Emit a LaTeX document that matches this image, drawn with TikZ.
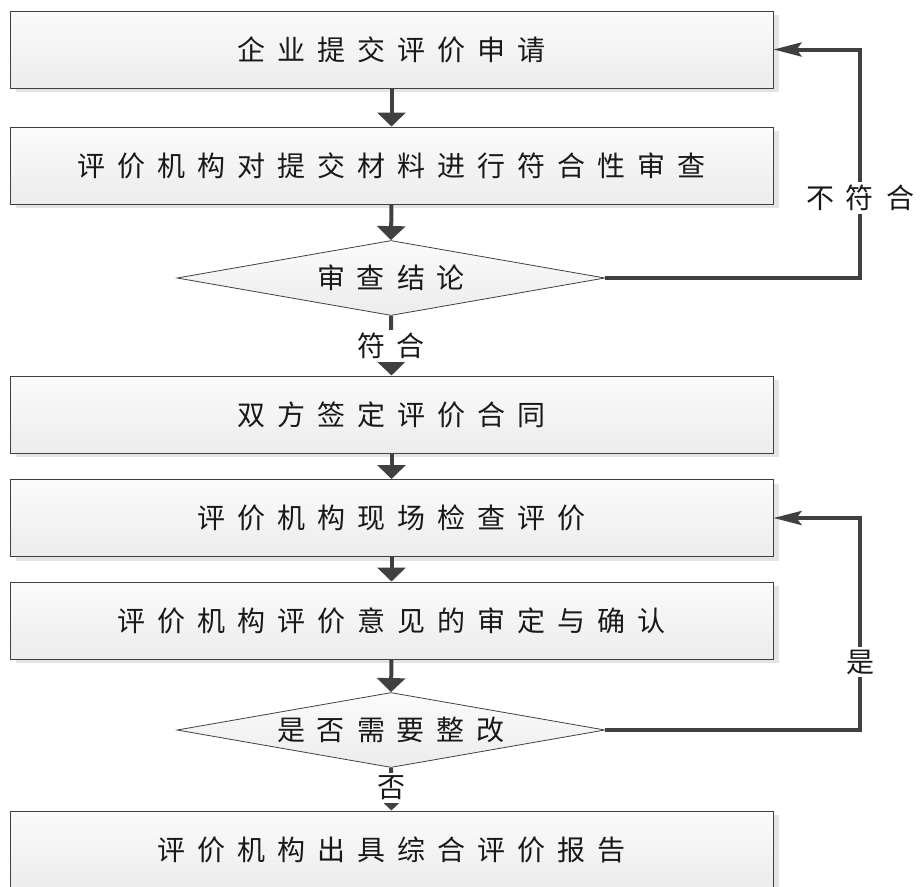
\documentclass[tikz,border=0pt]{standalone}
\usepackage{fontspec}
\newfontfamily\cjk{Noto Sans CJK SC}
\usetikzlibrary{arrows.meta,shapes.geometric,shadows}
\definecolor{linegray}{HTML}{404040}
\definecolor{shadowgray}{HTML}{E4E4E4}
\definecolor{topfill}{HTML}{FBFBFB}
\definecolor{botfill}{HTML}{ECECEC}
\makeatletter
\newcommand\sptext[1]{\def\my@sep{}\@tfor\my@ch:=#1\do{\my@sep\my@ch\def\my@sep{\hspace{12pt}}}}
\makeatother
\tikzset{
  txt/.style={font=\cjk\fontsize{28}{32}\selectfont, text=black!90},
  stepbox/.style={txt, draw=linegray, line width=1pt, inner sep=0pt,
    minimum width=763pt, minimum height=77pt,
    top color=topfill, bottom color=botfill,
    general shadow={fill=shadowgray, shadow xshift=6pt, shadow yshift=-4pt}},
  decide/.style={txt, diamond, draw=linegray, line width=0.8pt, inner sep=0pt, aspect=5.7,
    minimum width=428pt, minimum height=75pt,
    top color=topfill, bottom color=botfill},
  arr/.style={draw=linegray, line width=4pt, -{Triangle[width=28pt,length=14pt]}},
  ret/.style={draw=linegray, line width=4pt, -{Stealth[width=14pt,length=28pt,inset=5pt]}},
  lbl/.style={txt, fill=white, inner sep=3pt},
}
\begin{document}
\begin{tikzpicture}[x=1pt,y=-1pt]
\useasboundingbox (0,0) rectangle (923,886);
\clip (0,0) rectangle (923,886);
\node[stepbox] (b1) at (391.5,49.5) {\sptext{企业提交评价申请}};
\node[stepbox] (b2) at (391.5,165.5) {\sptext{评价机构对提交材料进行符合性审查}};
\node[decide]  (d1) at (391,278) {\sptext{审查结论}};
\node[stepbox] (b3) at (391.5,414.5) {\sptext{双方签定评价合同}};
\node[stepbox] (b4) at (391.5,518) {\sptext{评价机构现场检查评价}};
\node[stepbox] (b5) at (391.5,620.5) {\sptext{评价机构评价意见的审定与确认}};
\node[decide]  (d2) at (391,730) {\sptext{是否需要整改}};
\node[stepbox] (b6) at (391.5,849.5) {\sptext{评价机构出具综合评价报告}};
\coordinate (r1) at (860,0);
\coordinate (r2) at (860,0);
\draw[arr] (b1.south) -- (b2.north);
\draw[arr] (b2.south) -- (d1.north);
\draw[arr] (d1.south) -- (b3.north);
\draw[arr] (b3.south) -- (b4.north);
\draw[arr] (b4.south) -- (b5.north);
\draw[arr] (b5.south) -- (d2.north);
\draw[arr] (d2.south) -- (b6.north);
\draw[ret] (d1.east) -| (r1 |- b1.east) -- (b1.east);
\draw[ret] (d2.east) -| (r2 |- b4.east) -- (b4.east);
\node[lbl] (l1) at (860,198) {\sptext{不符合}};
\node[lbl] (l2) at (391,346) {\sptext{符合}};
\node[lbl] (l3) at (860,662) {是};
\node[lbl] (l4) at (391,788) {否};
\end{tikzpicture}
\end{document}
